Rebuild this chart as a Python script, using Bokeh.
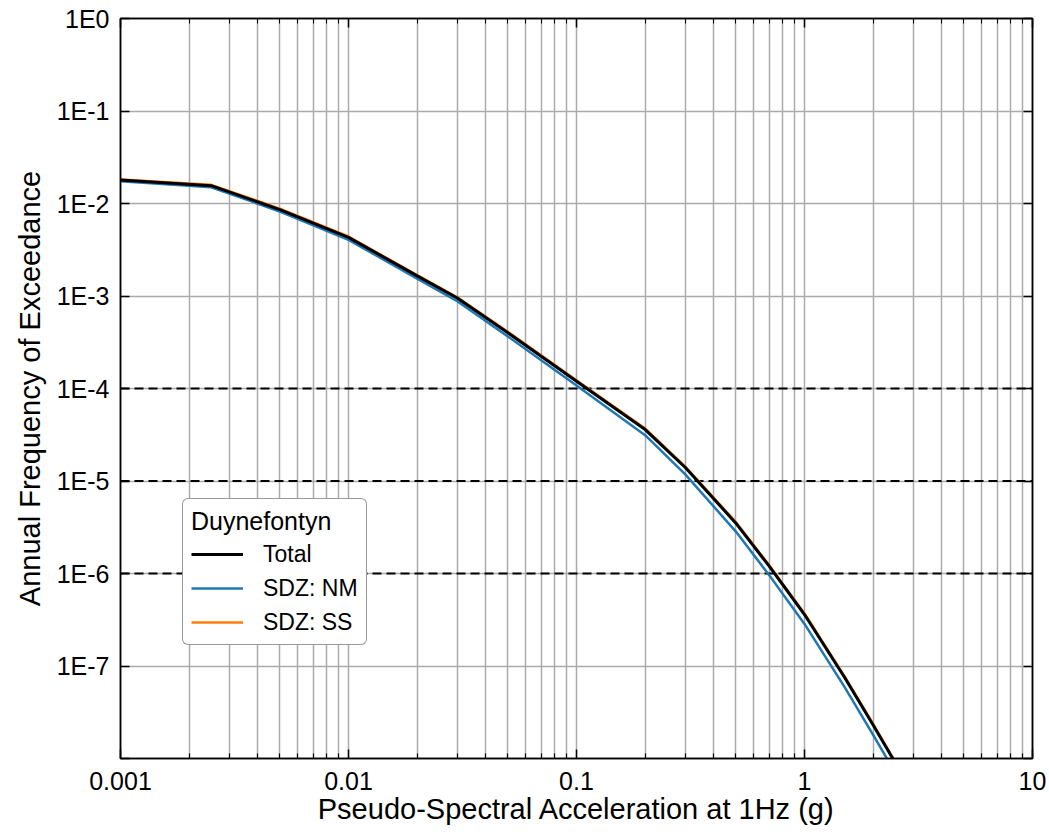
from bokeh.plotting import figure
from bokeh.models import (LogAxis, FixedTicker, CustomJSTickFormatter, Span,
                          Legend, LegendItem)
from bokeh.embed import file_html
from bokeh.resources import INLINE

# ---- data ----
psa_g = [0.001, 0.0025, 0.005, 0.01, 0.02, 0.03, 0.05, 0.1, 0.2, 0.3, 0.5,
         0.7, 1.0, 1.5, 2.0, 2.5, 3.0]
total = [1.79e-2, 1.56e-2, 8.6e-3, 4.3e-3, 1.65e-3, 9.5e-4, 4.0e-4, 1.2e-4,
         3.6e-5, 1.4e-5, 3.5e-6, 1.2e-6, 3.6e-7, 7.5e-8, 2.3e-8, 9.0e-9, 4.0e-9]
sdz_nm = [1.74e-2, 1.50e-2, 8.2e-3, 4.05e-3, 1.54e-3, 8.8e-4, 3.65e-4, 1.08e-4,
          3.13e-5, 1.18e-5, 2.84e-6, 9.6e-7, 2.85e-7, 5.9e-8, 1.8e-8, 7.0e-9, 3.1e-9]
sdz_ss = [1.82e-2, 1.59e-2, 8.8e-3, 4.4e-3, 1.68e-3, 9.7e-4, 4.1e-4, 1.23e-4,
          3.7e-5, 1.43e-5, 3.6e-6, 1.23e-6, 3.7e-7, 7.7e-8, 2.35e-8, 9.2e-9, 4.1e-9]
dashed_levels = [1e-4, 1e-5, 1e-6]
x_major = [0.001, 0.01, 0.1, 1, 10]
x_minor = [m * d for d in [0.001, 0.01, 0.1, 1] for m in range(2, 10)]
y_major = [1e-8, 1e-7, 1e-6, 1e-5, 1e-4, 1e-3, 1e-2, 1e-1, 1]

FONT = "Liberation Sans"

p = figure(width=1049, height=834, x_axis_type="log", y_axis_type="log",
           x_range=(0.001, 10), y_range=(1e-8, 1),
           output_backend="svg", toolbar_location=None,
           min_border_left=120, min_border_right=17, min_border_top=18,
           min_border_bottom=76)
p.outline_line_color = "black"
p.outline_line_width = 1.5
p.background_fill_color = "white"
p.border_fill_color = "white"

xt = FixedTicker(ticks=x_major, minor_ticks=x_minor)
yt = FixedTicker(ticks=y_major, minor_ticks=[])

xfmt = CustomJSTickFormatter(code="return tick.toString();")
yfmt = CustomJSTickFormatter(code="""
const e = Math.round(Math.log10(tick));
if (e <= -8) return "";
return "1E" + e;
""")
blank = CustomJSTickFormatter(code="return '';")

xa = p.xaxis[0]
xa.ticker = xt
xa.formatter = xfmt
xa.axis_label = "Pseudo-Spectral Acceleration at 1Hz (g)"
ya = p.yaxis[0]
ya.ticker = yt
ya.formatter = yfmt
ya.axis_label = "Annual Frequency of Exceedance"

for ax in (xa, ya):
    ax.axis_line_color = "black"
    ax.axis_line_width = 1.5
    ax.major_tick_in = 9
    ax.major_tick_out = 0
    ax.minor_tick_in = 5
    ax.minor_tick_out = 0
    ax.major_tick_line_color = "black"
    ax.major_tick_line_width = 1.5
    ax.minor_tick_line_color = "black"
    ax.minor_tick_line_width = 1.2
    ax.major_label_text_font = FONT
    ax.major_label_text_font_size = "25px"
    ax.major_label_text_color = "black"
    ax.axis_label_text_font = FONT
    ax.axis_label_text_font_size = "29px"
    ax.axis_label_text_font_style = "normal"
    ax.axis_label_text_color = "black"
ya.major_label_standoff = 11
ya.axis_label_standoff = 8
xa.major_label_standoff = 13
xa.axis_label_standoff = 0

top = LogAxis(ticker=FixedTicker(ticks=x_major, minor_ticks=x_minor), formatter=blank)
right = LogAxis(ticker=FixedTicker(ticks=y_major, minor_ticks=[]), formatter=blank)
for ax in (top, right):
    ax.axis_line_color = "black"
    ax.axis_line_width = 1.5
    ax.major_tick_in = 9
    ax.major_tick_out = 0
    ax.minor_tick_in = 5
    ax.minor_tick_out = 0
    ax.major_tick_line_color = "black"
    ax.major_tick_line_width = 1.5
    ax.minor_tick_line_color = "black"
    ax.major_label_text_font_size = "1px"
    ax.major_label_standoff = 0
p.add_layout(top, "above")
p.add_layout(right, "right")

p.xgrid.grid_line_color = "#ababab"
p.xgrid.grid_line_width = 1.5
p.xgrid.minor_grid_line_color = "#ababab"
p.xgrid.minor_grid_line_width = 1.5
p.ygrid.grid_line_color = "#ababab"
p.ygrid.grid_line_width = 1.5
p.ygrid.minor_grid_line_color = None

for lv in dashed_levels:
    p.add_layout(Span(location=lv, dimension="width", line_color="black",
                      line_width=2, line_dash="9 5", level="underlay"))

r_nm = p.line(psa_g, sdz_nm, line_color="#1f77b4", line_width=2.5)
r_ss = p.line(psa_g, sdz_ss, line_color="#ff7f0e", line_width=2.5)
r_tot = p.line(psa_g, total, line_color="black", line_width=3)

legend = Legend(items=[LegendItem(label="Total", renderers=[r_tot]),
                       LegendItem(label="SDZ: NM", renderers=[r_nm]),
                       LegendItem(label="SDZ: SS", renderers=[r_ss])],
                location=(62, 113), title="Duynefontyn")
legend.title_text_font = FONT
legend.title_text_font_size = "25px"
legend.title_text_font_style = "normal"
legend.title_text_color = "black"
legend.title_standoff = 4
legend.label_text_font = FONT
legend.label_text_font_size = "23px"
legend.label_text_color = "black"
legend.glyph_width = 52
legend.glyph_height = 28
legend.label_height = 28
legend.label_standoff = 20
legend.spacing = 6
legend.padding = 8
legend.margin = 0
legend.border_line_color = "#333333"
legend.border_line_width = 1.5
legend.background_fill_color = "white"
legend.background_fill_alpha = 1.0
try:
    legend.border_radius = 6
except Exception:
    pass
p.add_layout(legend, "center")

open("out.html", "w").write(file_html(p, INLINE))
